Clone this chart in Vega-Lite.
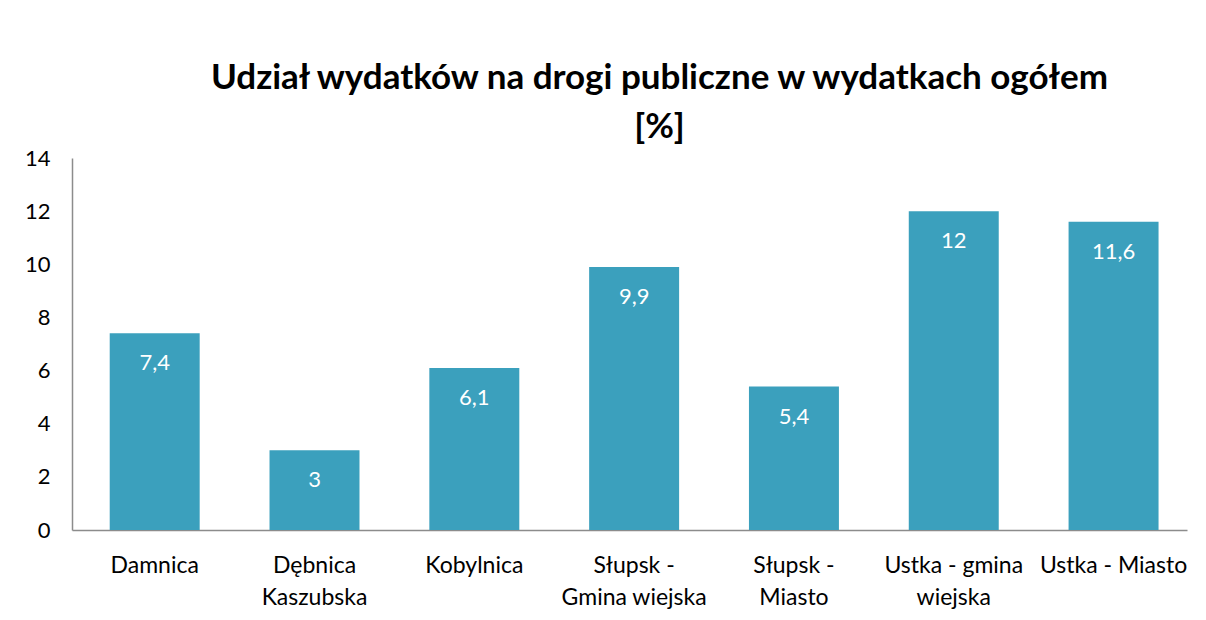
{
  "$schema": "https://vega.github.io/schema/vega-lite/v6.json",
  "width": 1115,
  "height": 372,
  "autosize": {"type": "none"},
  "padding": {"left": 72, "top": 158, "right": 19, "bottom": 90},
  "background": "white",
  "config": {
    "view": {"stroke": null},
    "font": "Lato",
    "locale": {"number": {"decimal": ",", "thousands": " ", "grouping": [3], "currency": ["", " zł"]}}
  },
  "title": {
    "text": ["Udział wydatków na drogi publiczne w wydatkach ogółem", "[%]"],
    "font": "Lato",
    "fontSize": 35,
    "fontWeight": "bold",
    "color": "#000000",
    "anchor": "middle",
    "dx": 30,
    "offset": 2,
    "lineHeight": 49
  },
  "data": {
    "values": [
      {"gmina": "Damnica", "wartosc": 7.4},
      {"gmina": "Dębnica Kaszubska", "wartosc": 3},
      {"gmina": "Kobylnica", "wartosc": 6.1},
      {"gmina": "Słupsk - Gmina wiejska", "wartosc": 9.9},
      {"gmina": "Słupsk - Miasto", "wartosc": 5.4},
      {"gmina": "Ustka - gmina wiejska", "wartosc": 12},
      {"gmina": "Ustka - Miasto", "wartosc": 11.6}
    ]
  },
  "encoding": {
    "x": {
      "field": "gmina",
      "type": "nominal",
      "sort": null,
      "scale": {"paddingInner": 0.437, "paddingOuter": 0.207, "align": 0.57},
      "axis": {
        "title": null,
        "labelAngle": 0,
        "labelFont": "Lato",
        "labelFontSize": 23,
        "labelColor": "#000000",
        "labelPadding": 35,
        "labelLineHeight": 32,
        "labelBaseline": "middle",
        "ticks": false,
        "domainColor": "#8c8c8c",
        "domainWidth": 1.5,
        "grid": false,
        "labelExpr": "datum.label == 'Dębnica Kaszubska' ? ['Dębnica', 'Kaszubska'] : datum.label == 'Słupsk - Gmina wiejska' ? ['Słupsk -', 'Gmina wiejska'] : datum.label == 'Słupsk - Miasto' ? ['Słupsk -', 'Miasto'] : datum.label == 'Ustka - gmina wiejska' ? ['Ustka - gmina', 'wiejska'] : datum.label"
      }
    },
    "y": {
      "field": "wartosc",
      "type": "quantitative",
      "scale": {"domain": [0, 14]},
      "axis": {
        "title": null,
        "values": [0, 2, 4, 6, 8, 10, 12, 14],
        "labelFont": "Lato",
        "labelFontSize": 22,
        "labelColor": "#000000",
        "labelPadding": 22,
        "ticks": false,
        "grid": false,
        "domainColor": "#8c8c8c",
        "domainWidth": 1.5
      }
    }
  },
  "layer": [
    {"mark": {"type": "bar", "color": "#3BA0BD"}},
    {
      "mark": {"type": "text", "color": "white", "font": "Lato", "fontSize": 22, "baseline": "middle", "dy": 30},
      "encoding": {
        "text": {"field": "wartosc", "type": "quantitative", "format": ".1~f"}
      }
    }
  ]
}
